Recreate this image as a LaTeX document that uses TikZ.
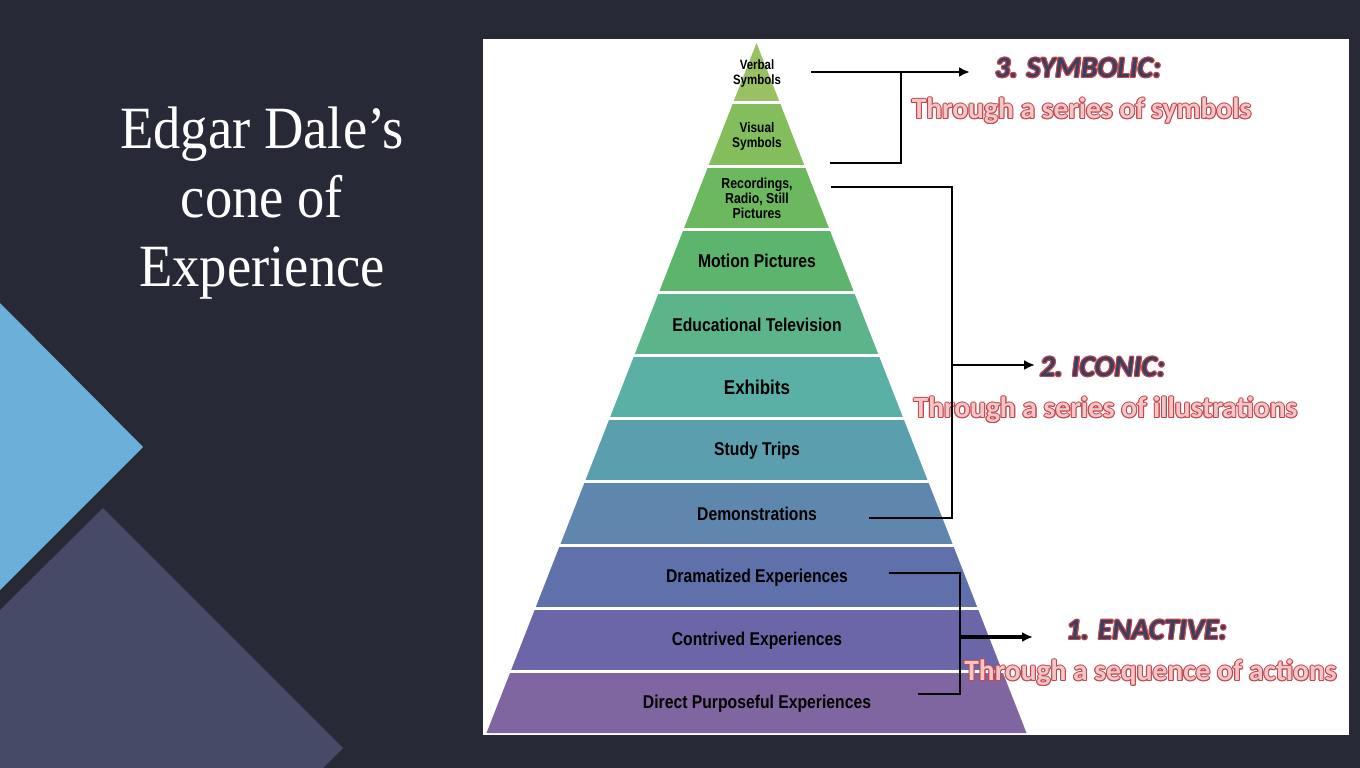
\documentclass[tikz,border=0pt]{standalone}
\usepackage{fontspec}
\usetikzlibrary{arrows.meta}
\setmainfont{Liberation Serif}
\newfontfamily\titlefont[FakeStretch=0.91]{Liberation Serif}
\newfontfamily\conefont[FakeStretch=0.85]{Liberation Sans}
\newfontfamily\stagefont{Carlito}

\definecolor{slide}{HTML}{272936}
\definecolor{skyblue}{HTML}{6CAFD8}
\definecolor{dusk}{HTML}{474A67}
\definecolor{bandA}{HTML}{9AC064}
\definecolor{bandB}{HTML}{84BE5C}
\definecolor{bandC}{HTML}{6CB85E}
\definecolor{bandD}{HTML}{5DB46C}
\definecolor{bandE}{HTML}{5BB48A}
\definecolor{bandF}{HTML}{5BB0A6}
\definecolor{bandG}{HTML}{5B9FAE}
\definecolor{bandH}{HTML}{5F87AE}
\definecolor{bandI}{HTML}{5F70AA}
\definecolor{bandJ}{HTML}{6B66A7}
\definecolor{bandK}{HTML}{8066A0}
\definecolor{rim}{HTML}{C4474C}
\definecolor{pinkfill}{HTML}{F3C6C8}
\definecolor{inkfill}{HTML}{3C3F5F}

% outlined lettering: a ring of rim-coloured copies under the filled text
\newcommand\rimcopy[3]{\rlap{\color{rim}\hspace{#1}\raisebox{#2}{#3}}}
\newcommand\rimtext[2]{\leavevmode
  \rimcopy{1.1pt}{0pt}{#2}\rimcopy{-1.1pt}{0pt}{#2}%
  \rimcopy{0pt}{1.1pt}{#2}\rimcopy{0pt}{-1.1pt}{#2}%
  \rimcopy{0.8pt}{0.8pt}{#2}\rimcopy{-0.8pt}{0.8pt}{#2}%
  \rimcopy{0.8pt}{-0.8pt}{#2}\rimcopy{-0.8pt}{-0.8pt}{#2}%
  {\color{#1}#2}}

\tikzset{
  lbl/.style={align=center, text=black, inner sep=0pt,
    font=\conefont\bfseries\fontsize{18.5}{18.5}\selectfont},
  small/.style={font=\conefont\bfseries\fontsize{#1}{15}\selectfont},
  conn/.style={draw=black, line width=2.2pt},
  tip/.style={-{Latex[length=11pt,width=10pt]}},
  heading/.style={inner sep=0pt, font=\stagefont\bfseries\itshape\fontsize{29.5}{29.5}\selectfont},
  gloss/.style={inner sep=0pt, font=\stagefont\bfseries\fontsize{29.5}{29.5}\selectfont},
}

\begin{document}
\begin{tikzpicture}[x=1pt, y=-1pt]
\useasboundingbox (0,0) rectangle (1360,768);
% slide background and corner shapes
\fill[slide] (0,0) rectangle (1360,768);
\fill[skyblue] (0,303) -- (143,447) -- (0,590) -- cycle;
\fill[dusk] (0,610) -- (103,508) -- (343,748) -- (323,768) -- (0,768) -- cycle;

% title
\node[text=white, align=center, font=\titlefont\fontsize{60}{69}\selectfont] (title) at (262,203)
  {Edgar Dale’s\\cone of\\Experience};

% white panel
\fill[white] (483,39) rectangle (1349,735);

% cone bands
\foreach \t/\b/\c in {43/102/bandA, 102/166/bandB, 166/229/bandC, 229/292/bandD,
  292/355/bandE, 355/418/bandF, 418/481/bandG, 481/545/bandH, 545/608/bandI,
  608/671/bandJ, 671/733/bandK} {
  \pgfmathsetmacro\wt{(\t-43)*0.3913}
  \pgfmathsetmacro\wb{(\b-43)*0.3913}
  \fill[\c] (756.5-\wt,\t) -- (756.5+\wt,\t) -- (756.5+\wb,\b) -- (756.5-\wb,\b) -- cycle;
}
\foreach \y in {102,166,229,292,355,418,481,545,608,671} {
  \pgfmathsetmacro\w{(\y-43)*0.3913+2}
  \draw[white, line width=3pt] (756.5-\w,\y) -- (756.5+\w,\y);
}

% band labels
\node[lbl, small=13.5] (verbal) at (757,73.5) {Verbal\\Symbols};
\node[lbl, small=14] (visual) at (757,136.5) {Visual\\Symbols};
\node[lbl, small=14.5] (record) at (757,198) {Recordings,\\Radio, Still\\Pictures};
\node[lbl] (motion) at (757,261) {Motion Pictures};
\node[lbl] (edtv) at (757,325) {Educational Television};
\node[lbl, font=\conefont\bfseries\fontsize{20}{20}\selectfont] (exhibits) at (757,387) {Exhibits};
\node[lbl] (trips) at (757,451) {Study Trips};
\node[lbl] (demo) at (757,514) {Demonstrations};
\node[lbl] (drama) at (757,578) {Dramatized Experiences};
\node[lbl] (contrived) at (757,641) {Contrived Experiences};
\node[lbl] (direct) at (757,704) {Direct Purposeful Experiences};

% stage captions
\node[heading] (symb) at (1078,68) {\rimtext{inkfill}{3. SYMBOLIC:}};
\node[gloss] (symbtxt) at (1081.5,111) {\rimtext{pinkfill}{Through a series of symbols}};
\node[heading] (icon) at (1102.5,367) {\rimtext{inkfill}{2. ICONIC:}};
\node[gloss] (icontxt) at (1105.5,410) {\rimtext{pinkfill}{Through a series of illustrations}};
\node[heading] (enact) at (1146.5,630) {\rimtext{inkfill}{1. ENACTIVE:}};
\node[gloss] (enacttxt) at (1150.5,673) {\rimtext{pinkfill}{Through a sequence of actions}};

% bracket ends
\coordinate (s1) at (811,72);
\coordinate (s2) at (830,163);
\coordinate (sTip) at (970,72);
\coordinate (i1) at (831,187);
\coordinate (i2) at (869,518);
\coordinate (iJoin) at (952,365);
\coordinate (iTip) at (1035,365);
\coordinate (e1) at (889,573);
\coordinate (e2) at (918,694);
\coordinate (eJoin) at (960,637);
\coordinate (eTip) at (1033,637);

% brackets and arrows
\draw[conn] (s2) -- ++(71,0) |- (s1);
\draw[conn, tip] (s1) -- (sTip);
\draw[conn] (i1) -- ++(121,0) |- (i2);
\draw[conn, tip] (iJoin) -- (iTip);
\draw[conn] (e1) -- ++(71,0) |- (e2);
\draw[conn, line width=4pt, tip] (eJoin) -- (eTip);
\end{tikzpicture}
\end{document}
